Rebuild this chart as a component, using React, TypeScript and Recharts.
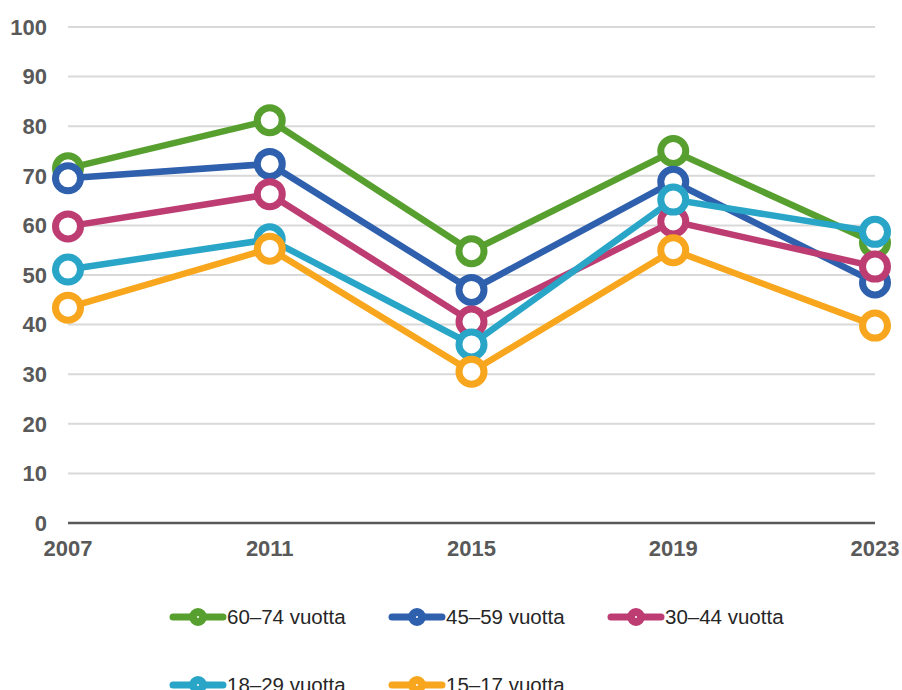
import React from 'react';
import {
    LineChart, Line, XAxis, YAxis, CartesianGrid, Legend,
} from 'recharts';

const years = ['2007', '2011', '2015', '2019', '2023'];

// osuus prosentteina ikäryhmittäin
const g6074 = [71.5, 81.2, 54.8, 75.0, 56.5];
const g4559 = [69.5, 72.4, 47.0, 68.8, 48.5];
const g3044 = [59.8, 66.3, 40.6, 60.8, 51.7];
const g1829 = [51.1, 57.2, 36.0, 65.2, 58.7];
const g1517 = [43.4, 55.3, 30.5, 55.0, 39.8];

const yTicks = [0, 10, 20, 30, 40, 50, 60, 70, 80, 90, 100];

const series = [
    { key: 'g6074', name: '60–74 vuotta', color: '#57A02F', values: g6074 },
    { key: 'g4559', name: '45–59 vuotta', color: '#2F60AD', values: g4559 },
    { key: 'g3044', name: '30–44 vuotta', color: '#BD3D73', values: g3044 },
    { key: 'g1829', name: '18–29 vuotta', color: '#28A5C7', values: g1829 },
    { key: 'g1517', name: '15–17 vuotta', color: '#F8A61D', values: g1517 },
];

const data = years.map((year, i) => {
    const row: Record<string, string | number> = { year };
    series.forEach((s) => { row[s.key] = s.values[i]; });
    return row;
});

const LegendContent = () => (
    <div style={{ height: 110, position: 'relative' }}>
        <div
            style={{
                position: 'absolute',
                left: 161,
                top: 41,
                width: 657,
                display: 'flex',
                flexWrap: 'wrap',
                rowGap: 42,
            }}
        >
            {series.map((s) => (
                <div key={s.key} style={{ width: 219, height: 26, display: 'flex', alignItems: 'center' }}>
                    <svg width={58} height={20} style={{ flex: 'none' }}>
                        <line x1={4} y1={10} x2={54} y2={10} stroke={s.color} strokeWidth={7} strokeLinecap="round" />
                        <circle cx={29} cy={10} r={5} fill="#fff" stroke={s.color} strokeWidth={8} />
                    </svg>
                    <span style={{ fontFamily: 'Arial, "Liberation Sans", sans-serif', fontSize: 20.5, color: '#262626', whiteSpace: 'nowrap' }}>
                        {s.name}
                    </span>
                </div>
            ))}
        </div>
    </div>
);

export default function App() {
    const tickStyle = {
        fontFamily: 'Arial, "Liberation Sans", sans-serif',
        fontSize: 22,
        fontWeight: 700,
        fill: '#595959',
    };
    return (
        <div style={{ position: 'absolute', left: 0, top: 0, width: 902, height: 690, background: '#fff' }}>
            <LineChart
                width={902}
                height={690}
                data={data}
                margin={{ top: 27, right: 27, left: 8, bottom: 17 }}
            >
                <CartesianGrid vertical={false} stroke="#D9D9D9" strokeWidth={2} />
                <XAxis
                    dataKey="year"
                    height={40}
                    tickLine={false}
                    axisLine={{ stroke: '#595959', strokeWidth: 2.5 }}
                    tick={tickStyle}
                    tickMargin={11}
                    interval={0}
                />
                <YAxis
                    width={60}
                    domain={[0, 100]}
                    ticks={yTicks}
                    interval={0}
                    tickLine={false}
                    axisLine={false}
                    tick={tickStyle}
                    tickMargin={15}
                />
                <Legend verticalAlign="bottom" content={LegendContent} />
                {series.map((s) => (
                    <Line
                        key={s.key}
                        dataKey={s.key}
                        name={s.name}
                        stroke={s.color}
                        strokeWidth={6.5}
                        dot={{ r: 12.5, fill: '#fff', stroke: s.color, strokeWidth: 7 }}
                        activeDot={false}
                        isAnimationActive={false}
                    />
                ))}
            </LineChart>
        </div>
    );
}
